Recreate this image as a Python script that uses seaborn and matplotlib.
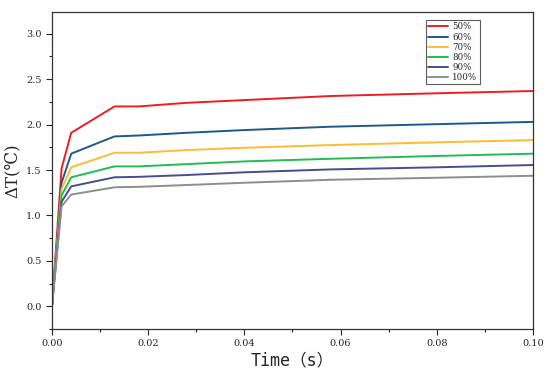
import pandas as pd
import matplotlib
matplotlib.use("Agg")
import matplotlib.pyplot as plt
from matplotlib.ticker import MultipleLocator
import seaborn as sns

# time points (s)
time = [0.0, 0.002, 0.004, 0.013, 0.018, 0.028, 0.04, 0.058, 0.08, 0.1]

# temperature rise for each ratio
dt_50 = [0.0, 1.52, 1.91, 2.20, 2.20, 2.24, 2.27, 2.315, 2.345, 2.37]
dt_60 = [0.0, 1.36, 1.68, 1.87, 1.88, 1.91, 1.94, 1.977, 2.005, 2.03]
dt_70 = [0.0, 1.29, 1.53, 1.69, 1.69, 1.72, 1.745, 1.775, 1.805, 1.83]
dt_80 = [0.0, 1.22, 1.42, 1.54, 1.54, 1.565, 1.595, 1.624, 1.655, 1.68]
dt_90 = [0.0, 1.15, 1.32, 1.42, 1.425, 1.445, 1.475, 1.507, 1.53, 1.555]
dt_100 = [0.0, 1.10, 1.23, 1.31, 1.315, 1.335, 1.36, 1.393, 1.415, 1.437]

labels = ["50%", "60%", "70%", "80%", "90%", "100%"]
colors = ["#ee1c25", "#1f5a85", "#ffbb33", "#22bb55", "#4b4b8f", "#8e8e8e"]

series = [dt_50, dt_60, dt_70, dt_80, dt_90, dt_100]
frames = []
for lab, vals in zip(labels, series):
    frames.append(pd.DataFrame({"Time": time, "dT": vals, "Ratio": lab}))
df = pd.concat(frames, ignore_index=True)

sns.set_style("ticks")
plt.rcParams["font.family"] = ["DejaVu Serif", "Noto Sans CJK SC"]

fig = plt.figure(figsize=(5.5, 3.72), dpi=100)
ax = fig.add_axes([0.0945, 0.1156, 0.8745, 0.8522])

sns.lineplot(data=df, x="Time", y="dT", hue="Ratio", palette=colors,
             linewidth=1.4, ax=ax)

ax.set_xlim(0, 0.1)
ax.set_ylim(-0.25, 3.24)
ax.xaxis.set_major_locator(MultipleLocator(0.02))
ax.xaxis.set_minor_locator(MultipleLocator(0.01))
ax.yaxis.set_major_locator(MultipleLocator(0.5))
ax.yaxis.set_minor_locator(MultipleLocator(0.25))
ax.xaxis.set_major_formatter(plt.FormatStrFormatter("%.2f"))
ax.yaxis.set_major_formatter(plt.FormatStrFormatter("%.1f"))
ax.tick_params(axis="both", which="major", labelsize=7, length=4, width=0.8)
ax.tick_params(axis="both", which="minor", length=2.5, width=0.8)
for s in ax.spines.values():
    s.set_linewidth(0.9)
    s.set_color("#333333")

ax.set_xlabel("Time（s）", fontsize=12, family=["DejaVu Sans Mono", "Noto Sans CJK SC"], labelpad=2)
ax.set_ylabel("ΔT(℃)", fontsize=12, family=["DejaVu Serif", "Noto Sans CJK SC"], labelpad=4)

leg = ax.legend(loc="upper left", bbox_to_anchor=(0.777, 0.975), fontsize=6.2,
                frameon=True, fancybox=False, handlelength=2.3, handletextpad=0.5,
                labelspacing=0.12, borderpad=0.3, borderaxespad=0)
leg.get_frame().set_edgecolor("#333333")
leg.get_frame().set_linewidth(0.8)

fig.savefig("out.png", dpi=100)
